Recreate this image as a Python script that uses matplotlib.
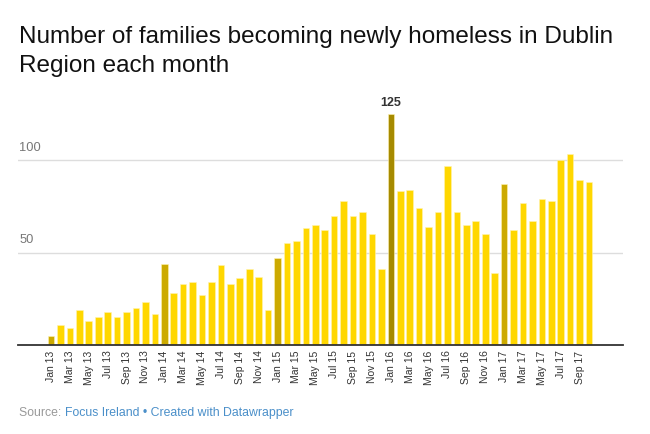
import matplotlib.pyplot as plt
from matplotlib import transforms

plt.rcParams["font.family"] = ["Liberation Sans", "DejaVu Sans"]

# monthly values, Jan 2013 .. Oct 2017
years = ["13", "14", "15", "16", "17"]
month_names = ["Jan", "Feb", "Mar", "Apr", "May", "Jun",
               "Jul", "Aug", "Sep", "Oct", "Nov", "Dec"]
months = [f"{m} {y}" for y in years for m in month_names][:58]

values_2013 = [5, 11, 9, 19, 13, 15, 18, 15, 18, 20, 23, 17]
values_2014 = [44, 28, 33, 34, 27, 34, 43, 33, 36, 41, 37, 19]
values_2015 = [47, 55, 56, 63, 65, 62, 70, 78, 70, 72, 60, 41]
values_2016 = [125, 83, 84, 74, 64, 72, 97, 72, 65, 67, 60, 39]
values_2017 = [87, 62, 77, 67, 79, 78, 100, 103, 89, 88]
values = values_2013 + values_2014 + values_2015 + values_2016 + values_2017

yticks = [50, 100]

GOLD = "#ffd700"
JAN = "#ccaa00"
PEAK = "#a68a00"

colors = []
for name, v in zip(months, values):
    if v == max(values):
        colors.append(PEAK)
    elif name.startswith("Jan"):
        colors.append(JAN)
    else:
        colors.append(GOLD)

fig = plt.figure(figsize=(6.5, 4.34), dpi=100)
W, H = 650, 434
y0, ytop = 345, 104.5
ax = fig.add_axes([18 / W, (H - y0) / H, (623 - 18) / W, (y0 - ytop) / H])

x = list(range(len(values)))
ax.bar(x, values, width=0.7, color=colors, edgecolor="#fff3b0", linewidth=0.4, zorder=2)
ax.set_xlim(-3.5, 60.6)
ax.set_ylim(0, 130)

for s in ["top", "right", "left"]:
    ax.spines[s].set_visible(False)
ax.spines["bottom"].set_color("#333333")
ax.spines["bottom"].set_linewidth(1.3)
ax.spines["bottom"].set_zorder(3)

ax.set_yticks([])
for t in yticks:
    ax.axhline(t, color="#dddddd", linewidth=1, zorder=1)
trans = transforms.blended_transform_factory(ax.transAxes, ax.transData)
for t in yticks:
    ax.text(0.002, t + 3.5, str(t), transform=trans, ha="left", va="bottom",
            fontsize=9.3, color="#777777")

ax.set_xticks(x[::2])
ax.set_xticklabels(months[::2], rotation=90, fontsize=7.5, color="#333333")
ax.tick_params(axis="x", length=0, pad=4)

imax = values.index(max(values))
ax.text(imax, values[imax] + 2.5, str(values[imax]), ha="center", va="bottom",
        fontsize=9, fontweight="bold", color="#333333")

fig.text(19 / W, 1 - 43 / H, "Number of families becoming newly homeless in Dublin",
         ha="left", va="baseline", fontsize=17.5, color="#111111")
fig.text(19 / W, 1 - 71.7 / H, "Region each month",
         ha="left", va="baseline", fontsize=17.5, color="#111111")

src_y = 1 - 413 / H
t1 = fig.text(19 / W, src_y, "Source: ", ha="left", va="center", fontsize=8.8, color="#999999")
fig.canvas.draw()
bb = t1.get_window_extent()
fig.text(bb.x1 / W, src_y, "Focus Ireland \u2022 Created with Datawrapper",
         ha="left", va="center", fontsize=8.8, color="#4a8fc9")

fig.savefig("out.png", dpi=100)
